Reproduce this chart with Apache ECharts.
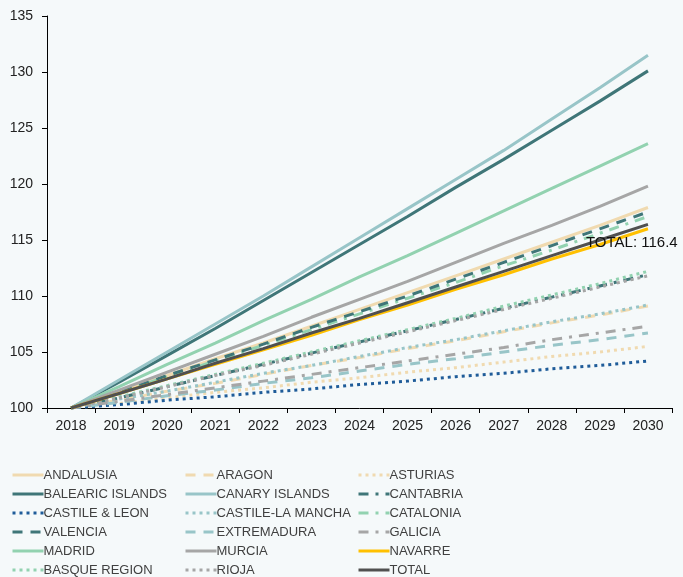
<!DOCTYPE html>
<html><head><meta charset="utf-8">
<script src="https://cdn.jsdelivr.net/npm/echarts@6/dist/echarts.min.js"></script>
<style>html,body{margin:0;padding:0;background:#f5f9fa;}#c{width:683px;height:577px;}</style>
</head><body><div id="c"></div>
<script>
var years = ['2018','2019','2020','2021','2022','2023','2024','2025','2026','2027','2028','2029','2030'];
var yTicks = [100,105,110,115,120,125,130,135];

var andalusia   = [100,101.5,102.9,104.4,105.8,107.3,108.8,110.3,111.8,113.3,114.8,116.3,117.9];
var aragon      = [100,100.7,101.5,102.2,103.0,103.8,104.5,105.3,106.0,106.8,107.6,108.3,109.1];
var asturias    = [100,100.4,100.9,101.4,101.8,102.3,102.7,103.2,103.6,104.1,104.6,105.0,105.5];
var balearic    = [100,102.3,104.7,107.1,109.6,112.1,114.6,117.1,119.7,122.2,124.8,127.4,130.1];
var canary      = [100,102.5,105.0,107.5,110.0,112.6,115.2,117.8,120.4,123.0,125.8,128.6,131.5];
var cantabria   = [100,100.9,101.9,102.9,103.9,104.9,105.9,106.9,107.9,108.9,109.9,110.9,111.9];
var castileLeon = [100,100.3,100.7,101.0,101.4,101.7,102.1,102.4,102.8,103.1,103.5,103.8,104.2];
var castileLM   = [100,100.8,101.5,102.3,103.1,103.8,104.6,105.4,106.1,106.9,107.7,108.4,109.2];
var catalonia   = [100,101.4,102.8,104.2,105.6,107.0,108.4,109.8,111.2,112.7,114.1,115.6,117.1];
var valencia    = [100,101.4,102.9,104.3,105.7,107.2,108.6,110.0,111.5,113.0,114.5,116.0,117.5];
var extremadura = [100,100.5,101.1,101.6,102.2,102.7,103.3,103.9,104.4,105.0,105.6,106.1,106.7];
var galicia     = [100,100.6,101.2,101.8,102.4,103.0,103.6,104.2,104.8,105.4,106.1,106.7,107.3];
var madrid      = [100,101.9,103.9,105.8,107.8,109.7,111.7,113.6,115.6,117.6,119.6,121.6,123.6];
var murcia      = [100,101.6,103.2,104.8,106.4,108.1,109.7,111.3,113.0,114.7,116.3,118.0,119.8];
var navarre     = [100,101.3,102.6,103.9,105.2,106.5,107.9,109.2,110.6,111.9,113.3,114.6,116.0];
var basque      = [100,101.0,102.0,103.0,104.0,105.0,106.0,107.0,108.0,109.1,110.1,111.1,112.2];
var rioja       = [100,100.9,101.9,102.9,103.8,104.8,105.8,106.8,107.8,108.8,109.8,110.8,111.8];
var total       = [100,101.3,102.6,104.0,105.3,106.7,108.0,109.4,110.8,112.2,113.6,115.0,116.4];

var BEIGE='#f0dab0', DTEAL='#3f7678', LTEAL='#98c5c8', MINT='#92d2b0', GRAY='#a6a6a6', BLUE='#1f5c99', GOLD='#ffc000', DGRAY='#505050';
var SOLID='solid', DASH=[10,8], DOT=[3,4], DASHDOT=[10,7,3,7];
var FONT = 'Liberation Sans, Arial, sans-serif';

function s(name, data, color, type, z) {
  return {name:name, type:'line', data:data, symbol:'none', showSymbol:false, z:z||2,
    lineStyle:{color:color, width:3, type:type},
    itemStyle:{color:color}, emphasis:{disabled:true}};
}
var totalSeries = s('TOTAL', total, DGRAY, SOLID, 4);
totalSeries.endLabel = {show:true, formatter:'TOTAL: 116.4', offset:[-70,19],
  color:'#111', fontSize:15, fontFamily:FONT};

var series = [
  s('ANDALUSIA', andalusia, BEIGE, SOLID),
  s('ARAGON', aragon, BEIGE, DASH),
  s('ASTURIAS', asturias, BEIGE, DOT),
  s('BALEARIC ISLANDS', balearic, DTEAL, SOLID),
  s('CANARY ISLANDS', canary, LTEAL, SOLID),
  s('CANTABRIA', cantabria, DTEAL, DASHDOT),
  s('CASTILE & LEON', castileLeon, BLUE, DOT),
  s('CASTILE-LA MANCHA', castileLM, LTEAL, DOT),
  s('CATALONIA', catalonia, MINT, DASHDOT),
  s('VALENCIA', valencia, DTEAL, DASH),
  s('EXTREMADURA', extremadura, LTEAL, DASH),
  s('GALICIA', galicia, GRAY, DASHDOT),
  s('MADRID', madrid, MINT, SOLID),
  s('MURCIA', murcia, GRAY, SOLID),
  s('NAVARRE', navarre, GOLD, SOLID, 3),
  s('BASQUE REGION', basque, MINT, DOT),
  s('RIOJA', rioja, GRAY, DOT),
  totalSeries
];

var col1 = ['ANDALUSIA','BALEARIC ISLANDS','CASTILE & LEON','VALENCIA','MADRID','BASQUE REGION'];
var col2 = ['ARAGON','CANARY ISLANDS','CASTILE-LA MANCHA','EXTREMADURA','MURCIA','RIOJA'];
var col3 = ['ASTURIAS','CANTABRIA','CATALONIA','GALICIA','NAVARRE','TOTAL'];
function lg(data, left){
  return {data:data, orient:'vertical', left:left, top:468, itemWidth:31, itemHeight:14, itemGap:5,
    selectedMode:false, padding:0,
    itemStyle:{opacity:0},
    lineStyle:{width:3},
    textStyle:{color:'#404040', fontSize:13, lineHeight:14, fontFamily:FONT, padding:[0,0,0,-5]}};
}

var chart = echarts.init(document.getElementById('c'));
chart.setOption({
  backgroundColor:'#f5f9fa',
  animation:false,
  textStyle:{fontFamily:FONT},
  grid:{left:47, right:11, top:16, bottom:169, containLabel:false},
  legend:[lg(col1,11), lg(col2,184), lg(col3,357)],
  xAxis:{type:'category', data:years, boundaryGap:true,
    axisLine:{lineStyle:{color:'#000', width:1}},
    axisTick:{show:true, length:5, lineStyle:{color:'#000'}},
    axisLabel:{color:'#222', fontSize:14, margin:11, fontFamily:FONT}},
  yAxis:{type:'value', min:100, max:135, interval:5,
    axisLine:{show:true, lineStyle:{color:'#000', width:1}},
    axisTick:{show:true, length:5, lineStyle:{color:'#000'}},
    splitLine:{show:false},
    axisLabel:{color:'#222', fontSize:14, margin:14, fontFamily:FONT,
      formatter:function(v){return yTicks.indexOf(v)>=0? String(v):'';}}},
  series:series
});
</script>
</body></html>
